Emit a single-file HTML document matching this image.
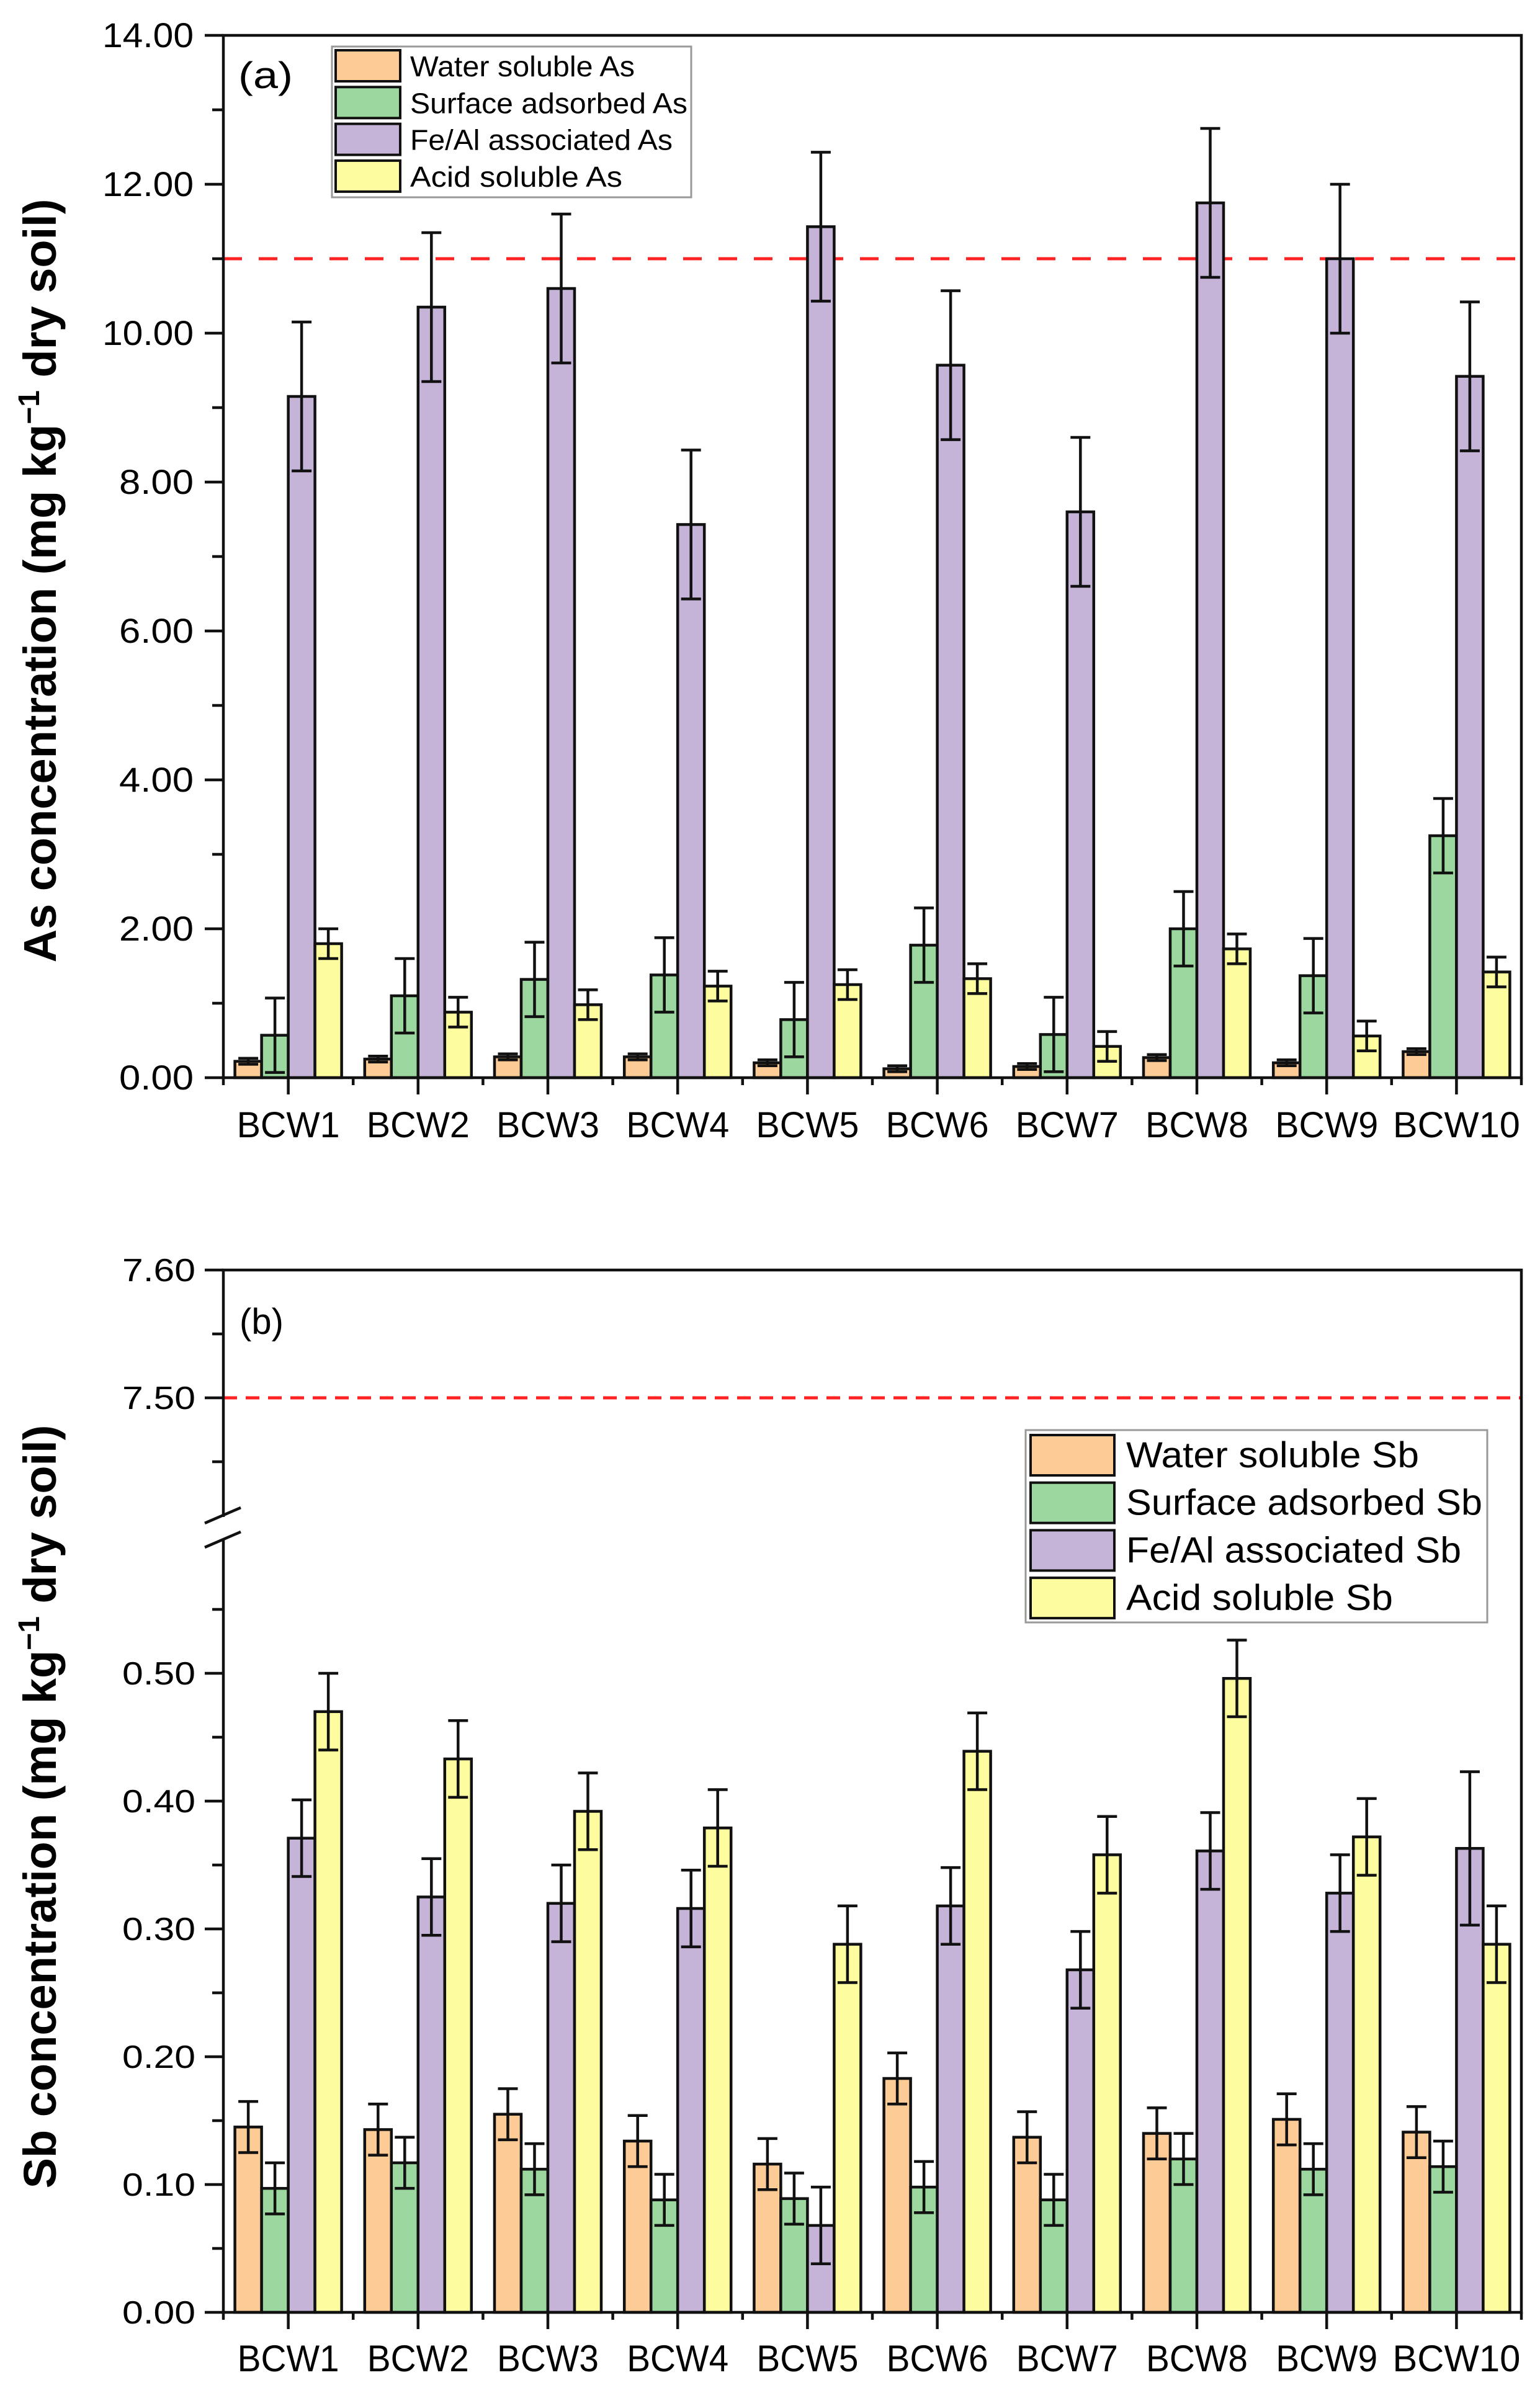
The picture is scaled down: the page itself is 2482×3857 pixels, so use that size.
<!DOCTYPE html>
<html><head><meta charset="utf-8"><style>
html,body{margin:0;padding:0;background:#fff;}
svg{display:block;}
</style></head><body>
<svg id="s" width="2482" height="3857" xmlns="http://www.w3.org/2000/svg" font-family="Liberation Sans, Arial, sans-serif"></svg>
<script>
const s=document.getElementById('s');let h='';
const C=['#FDCB95','#9BD79E','#C5B3D8','#FDFDA0'];
const L=360,R=2452,SP=(R-L)/10,BW=43;
function gx(i){return L+SP/2+SP*i;}
const a0=1737,ua=120; const ya=v=>a0-v*ua;
const A=[[0.22,0.57,9.15,1.8],[0.25,1.1,10.35,0.88],[0.28,1.32,10.6,0.98],[0.28,1.38,7.43,1.23],[0.2,0.78,11.43,1.25],[0.12,1.78,9.57,1.33],[0.15,0.58,7.6,0.42],[0.27,2.0,11.75,1.73],[0.2,1.37,11.0,0.56],[0.35,3.25,9.42,1.42]];
const Ea=[0.04,0.5,1.0,0.2];
h+=`<line x1="${L}" y1="${ya(11)}" x2="${R}" y2="${ya(11)}" stroke="#f22" stroke-width="5" stroke-dasharray="30,27"/>`;
function bars(D,E,yf,base){
 let o='';
 D.forEach((g,i)=>{g.forEach((v,k)=>{const x=gx(i)-2*BW+k*BW;const y=yf(v);
 o+=`<rect x="${x}" y="${y}" width="${BW}" height="${base-y}" fill="${C[k]}" stroke="#111" stroke-width="4.5"/>`;
 const e=Array.isArray(E[0])?E[i][k]:E[k];const cx=x+BW/2,t=yf(v+e),b=Math.min(base,yf(Math.max(0,v-e)));
 o+=`<line x1="${cx}" y1="${t}" x2="${cx}" y2="${b}" stroke="#111" stroke-width="4.5"/><line x1="${cx-16}" y1="${t}" x2="${cx+16}" y2="${t}" stroke="#111" stroke-width="4.5"/><line x1="${cx-16}" y1="${b}" x2="${cx+16}" y2="${b}" stroke="#111" stroke-width="4.5"/>`;});});
 return o;}
h+=bars(A,Ea,ya,a0);
h+=`<path d="M${L} ${a0} L${L} 57 L${R} 57 L${R} ${a0} Z" fill="none" stroke="#111" stroke-width="4.5"/>`;
for(let v=0;v<=14;v++){const y=ya(v);const len=v%2==0?30:18;h+=`<line x1="${L-len}" y1="${y}" x2="${L}" y2="${y}" stroke="#111" stroke-width="4.5"/>`;
 if(v%2==0)h+=`<text x="${L-48}" y="${y+19}" font-size="56" text-anchor="end" textLength="${v>=10?147:120}" lengthAdjust="spacingAndGlyphs">${v.toFixed(2)}</text>`;}
for(let i=0;i<=10;i++){const x=L+SP*i;h+=`<line x1="${x}" y1="${a0}" x2="${x}" y2="${a0+12}" stroke="#111" stroke-width="4.5"/>`;}
for(let i=0;i<10;i++){h+=`<line x1="${gx(i)}" y1="${a0}" x2="${gx(i)}" y2="${a0+27}" stroke="#111" stroke-width="4.5"/><text x="${gx(i)}" y="1833" font-size="58" text-anchor="middle" textLength="${i==9?205:166}" lengthAdjust="spacingAndGlyphs">BCW${i+1}</text>`;}
h+=`<text x="384" y="142" font-size="60" textLength="88" lengthAdjust="spacingAndGlyphs">(a)</text>`;
h+=`<text transform="translate(90,936) rotate(-90)" font-size="74" font-weight="bold" text-anchor="middle">As concentration (mg kg<tspan dy="-27" font-size="48">−1</tspan><tspan dy="27"> dry soil)</tspan></text>`;
h+=`<rect x="535" y="75" width="579" height="243" fill="#fff" stroke="#999" stroke-width="3"/>`;
['Water soluble As','Surface adsorbed As','Fe/Al associated As','Acid soluble As'].forEach((t,k)=>{const cy=107+k*59.3;const w=[362,447,423,342][k];
 h+=`<rect x="541" y="${cy-26}" width="104" height="50" fill="${C[k]}" stroke="#111" stroke-width="4"/><text x="661" y="${cy+16}" font-size="46" textLength="${w}" lengthAdjust="spacingAndGlyphs">${t}</text>`;});
const b0=3727,ub=2060; const yb=v=>b0-v*ub;
const yu=v=>2047+(7.6-v)*2060;
const B=[[0.145,0.097,0.371,0.470],[0.143,0.117,0.325,0.433],[0.155,0.112,0.320,0.392],[0.134,0.088,0.316,0.379],[0.116,0.089,0.068,0.288],[0.183,0.098,0.318,0.439],[0.137,0.088,0.268,0.358],[0.140,0.120,0.361,0.496],[0.151,0.112,0.328,0.372],[0.141,0.114,0.363,0.288]];
const Eb=B.map((g,i)=>[0.02,0.02,i==9?0.06:0.03,0.03]);
h+=`<line x1="${L}" y1="2253" x2="${R}" y2="2253" stroke="#f22" stroke-width="5" stroke-dasharray="22,14"/>`;
h+=bars(B,Eb,yb,b0);
h+=`<path d="M${L} 2445 L${L} 2047 L${R} 2047 L${R} ${b0} L${L} ${b0} L${L} 2480" fill="none" stroke="#111" stroke-width="4.5"/>`;
h+=`<line x1="${L-30}" y1="2455" x2="${L+28}" y2="2430" stroke="#111" stroke-width="4.5"/><line x1="${L-30}" y1="2494" x2="${L+28}" y2="2469" stroke="#111" stroke-width="4.5"/>`;
[[7.6,1],[7.55,0],[7.5,1],[7.45,0]].forEach(([v,m])=>{const y=yu(v);h+=`<line x1="${L-(m?30:18)}" y1="${y}" x2="${L}" y2="${y}" stroke="#111" stroke-width="4.5"/>`;if(m)h+=`<text x="${L-45}" y="${y+18}" font-size="52" text-anchor="end" textLength="118" lengthAdjust="spacingAndGlyphs">${v.toFixed(2)}</text>`;});
for(let j=0;j<=11;j++){const v=j*0.05,y=yb(v),m=j%2==0;h+=`<line x1="${L-(m?30:18)}" y1="${y}" x2="${L}" y2="${y}" stroke="#111" stroke-width="4.5"/>`;if(m)h+=`<text x="${L-45}" y="${y+18}" font-size="52" text-anchor="end" textLength="118" lengthAdjust="spacingAndGlyphs">${v.toFixed(2)}</text>`;}
for(let i=0;i<=10;i++){const x=L+SP*i;h+=`<line x1="${x}" y1="${b0}" x2="${x}" y2="${b0+12}" stroke="#111" stroke-width="4.5"/>`;}
for(let i=0;i<10;i++){h+=`<line x1="${gx(i)}" y1="${b0}" x2="${gx(i)}" y2="${b0+27}" stroke="#111" stroke-width="4.5"/><text x="${gx(i)}" y="3822" font-size="60" text-anchor="middle" textLength="${i==9?206:164}" lengthAdjust="spacingAndGlyphs">BCW${i+1}</text>`;}
h+=`<text x="386" y="2150" font-size="58">(b)</text>`;
h+=`<text transform="translate(90,2912) rotate(-90)" font-size="74" font-weight="bold" text-anchor="middle">Sb concentration (mg kg<tspan dy="-27" font-size="48">−1</tspan><tspan dy="27"> dry soil)</tspan></text>`;
h+=`<rect x="1653" y="2305" width="744" height="310" fill="#fff" stroke="#999" stroke-width="3"/>`;
['Water soluble Sb','Surface adsorbed Sb','Fe/Al associated Sb','Acid soluble Sb'].forEach((t,k)=>{const cy=2345+k*76.7;const w=[472,574,540,430][k];
 h+=`<rect x="1661" y="${cy-32}" width="135" height="65" fill="${C[k]}" stroke="#111" stroke-width="4"/><text x="1815" y="${cy+20}" font-size="58" textLength="${w}" lengthAdjust="spacingAndGlyphs">${t}</text>`;});
s.innerHTML=h;
</script>
</body></html>
